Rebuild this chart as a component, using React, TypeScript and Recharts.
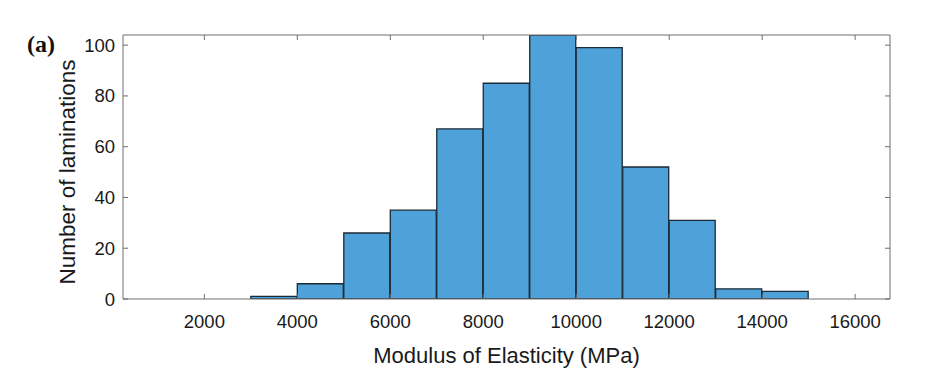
import React from 'react';
import { BarChart, Bar, XAxis, YAxis, Label } from 'recharts';

const binCenters = [3500, 4500, 5500, 6500, 7500, 8500, 9500, 10500, 11500, 12500, 13500, 14500];
const counts = [1, 6, 26, 35, 67, 85, 104, 99, 52, 31, 4, 3];
const xTicks = [2000, 4000, 6000, 8000, 10000, 12000, 14000, 16000];
const yTicks = [0, 20, 40, 60, 80, 100];
const xTitle = 'Modulus of Elasticity (MPa)';
const yTitle = 'Number of laminations';
const panelTag = '(a)';

const data = binCenters.map((c, i) => ({ c, n: counts[i] }));

const AXIS = '#6e6e6e';
const FONT = 'Liberation Sans, Arial, sans-serif';
const tickStyle = { fill: '#1a1a1a', fontSize: 18.5, fontFamily: FONT };
const blank = () => '';

const XTitle = (props: any) => {
  const vb = props.viewBox;
  return (
    <text
      x={vb.x + vb.width / 2}
      y={vb.y + vb.height - 9}
      textAnchor="middle"
      fill="#1a1a1a"
      fontSize={22}
      fontFamily={FONT}
    >
      {xTitle}
    </text>
  );
};

const YTitle = (props: any) => {
  const vb = props.viewBox;
  const cx = 67;
  const cy = vb.y + vb.height / 2 + 5;
  return (
    <text
      transform={`translate(${cx},${cy}) rotate(-90)`}
      x={0}
      y={0}
      textAnchor="middle"
      dominantBaseline="central"
      fill="#1a1a1a"
      fontSize={22.5}
      fontFamily={FONT}
    >
      {yTitle}
    </text>
  );
};

export default function App() {
  return (
    <div style={{ position: 'absolute', left: 0, top: 0, width: 947, height: 372, background: '#fff' }}>
      <span
        style={{
          position: 'absolute',
          left: 27,
          top: 31,
          fontFamily: 'Liberation Serif, Times New Roman, serif',
          fontWeight: 'bold',
          fontSize: 24,
          lineHeight: '26px',
          color: '#111',
        }}
      >
        {panelTag}
      </span>
      <BarChart
        width={947}
        height={372}
        data={data}
        barCategoryGap={0}
        margin={{ top: 34, right: 56, left: 0, bottom: 0 }}
      >
        <XAxis
          xAxisId="b"
          dataKey="c"
          type="number"
          domain={[250, 16750]}
          ticks={xTicks}
          allowDataOverflow
          height={73}
          stroke={AXIS}
          tickSize={-5}
          tickMargin={21}
          tick={tickStyle}
        >
          <Label content={XTitle} />
        </XAxis>
        <XAxis
          xAxisId="t"
          orientation="top"
          dataKey="c"
          type="number"
          domain={[250, 16750]}
          ticks={xTicks}
          allowDataOverflow
          height={1}
          stroke={AXIS}
          tickSize={-5}
          tickFormatter={blank}
        />
        <YAxis
          yAxisId="l"
          domain={[0, 104]}
          ticks={yTicks}
          allowDataOverflow
          width={123}
          stroke={AXIS}
          tickSize={-5}
          tickMargin={13}
          tick={tickStyle}
        >
          <Label content={YTitle} />
        </YAxis>
        <YAxis
          yAxisId="r"
          orientation="right"
          domain={[0, 104]}
          ticks={yTicks}
          allowDataOverflow
          width={1}
          stroke={AXIS}
          tickSize={-5}
          tickFormatter={blank}
        />
        <Bar
          xAxisId="b"
          yAxisId="l"
          dataKey="n"
          fill="#4ea1d9"
          stroke="#1b2a36"
          strokeWidth={1.3}
          isAnimationActive={false}
        />
      </BarChart>
    </div>
  );
}
